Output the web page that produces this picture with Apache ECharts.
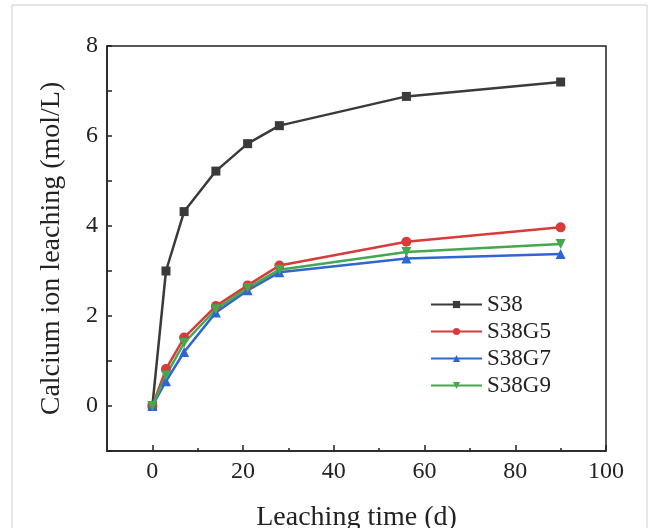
<!DOCTYPE html>
<html>
<head>
<meta charset="utf-8">
<script src="https://cdn.jsdelivr.net/npm/echarts@6/dist/echarts.min.js"></script>
<style>
  html, body { margin: 0; padding: 0; background: #fff; }
  #main { width: 654px; height: 528px; }
</style>
</head>
<body>
<div id="main"></div>
<script>
// leaching time (d)
var days = [0, 3, 7, 14, 21, 28, 56, 90];
var s38 = [0, 3.0, 4.32, 5.22, 5.83, 6.23, 6.88, 7.2];
var s38g5 = [0, 0.82, 1.52, 2.22, 2.68, 3.12, 3.65, 3.97];
var s38g7 = [0, 0.55, 1.2, 2.08, 2.57, 2.97, 3.28, 3.38];
var s38g9 = [0, 0.68, 1.4, 2.15, 2.62, 3.03, 3.42, 3.6];

var seriesNames = ['S38', 'S38G5', 'S38G7', 'S38G9'];
var colors = ['#3a3a3a', '#d93a3a', '#2f66d0', '#43a84e'];
var xMajor = [0, 20, 40, 60, 80, 100];
var xMinor = [10, 30, 50, 70, 90];
var yMajor = [0, 2, 4, 6, 8];

function pairs(ys) {
  return days.map(function (d, i) { return [d, ys[i]]; });
}

var chart = echarts.init(document.getElementById('main'));
var font = 'Liberation Serif';
var ink = '#222';

var options = {
  animation: false,
  textStyle: { fontFamily: font },
  graphic: [{
    type: 'rect',
    shape: { x: 12, y: 5, width: 635, height: 530 },
    style: { fill: 'none', stroke: '#cccccc', lineWidth: 1 }
  }],
  grid: {
    left: 107, top: 46, right: 48, bottom: 77,
    outerBoundsMode: 'none',
    show: true, borderColor: ink, borderWidth: 1.5
  },
  legend: {
    orient: 'vertical',
    left: 425,
    top: 288,
    itemWidth: 51,
    itemHeight: 9,
    itemGap: 4,
    textStyle: { fontFamily: font, fontSize: 23, color: ink },
    data: seriesNames
  },
  xAxis: [{
    type: 'value',
    min: -10, max: 100,
    interval: 10,
    name: 'Leaching time (d)',
    nameLocation: 'middle',
    nameGap: 53,
    nameTextStyle: { fontFamily: font, fontSize: 28, color: ink },
    axisLine: { onZero: false, lineStyle: { color: ink, width: 1.5 } },
    axisTick: { inside: true, length: 6, customValues: xMajor, lineStyle: { color: ink, width: 1.5 } },
    splitLine: { show: false },
    axisLabel: { fontFamily: font, fontSize: 24, color: ink, margin: 9, customValues: xMajor }
  }, {
    type: 'value',
    position: 'bottom',
    min: -10, max: 100,
    interval: 10,
    axisLine: { show: false, onZero: false },
    axisTick: { inside: true, length: 3, customValues: xMinor, lineStyle: { color: ink, width: 1.5 } },
    axisLabel: { show: false },
    splitLine: { show: false }
  }],
  yAxis: {
    type: 'value',
    min: -1, max: 8,
    interval: 1,
    name: 'Calcium ion leaching (mol/L)',
    nameLocation: 'middle',
    nameGap: 41,
    nameTextStyle: { fontFamily: font, fontSize: 28, color: ink },
    axisLine: { onZero: false, lineStyle: { color: ink, width: 1.5 } },
    axisTick: { inside: true, length: 5, lineStyle: { color: ink, width: 1.5 } },
    splitLine: { show: false },
    axisLabel: {
      fontFamily: font, fontSize: 24, color: ink, margin: 9,
      customValues: yMajor
    }
  },
  series: [
    {
      name: 'S38', type: 'line', data: pairs(s38),
      symbol: 'rect', symbolSize: 9,
      lineStyle: { width: 2.5, color: colors[0] },
      itemStyle: { color: colors[0] }
    },
    {
      name: 'S38G5', type: 'line', data: pairs(s38g5),
      symbol: 'circle', symbolSize: 10,
      lineStyle: { width: 2.5, color: colors[1] },
      itemStyle: { color: colors[1] }
    },
    {
      name: 'S38G7', type: 'line', data: pairs(s38g7),
      symbol: 'triangle', symbolSize: 10,
      lineStyle: { width: 2.5, color: colors[2] },
      itemStyle: { color: colors[2] }
    },
    {
      name: 'S38G9', type: 'line', data: pairs(s38g9),
      symbol: 'triangle', symbolRotate: 180, symbolSize: 10,
      lineStyle: { width: 2.5, color: colors[3] },
      itemStyle: { color: colors[3] }
    }
  ]
};

chart.setOption(options);
</script>
</body>
</html>
